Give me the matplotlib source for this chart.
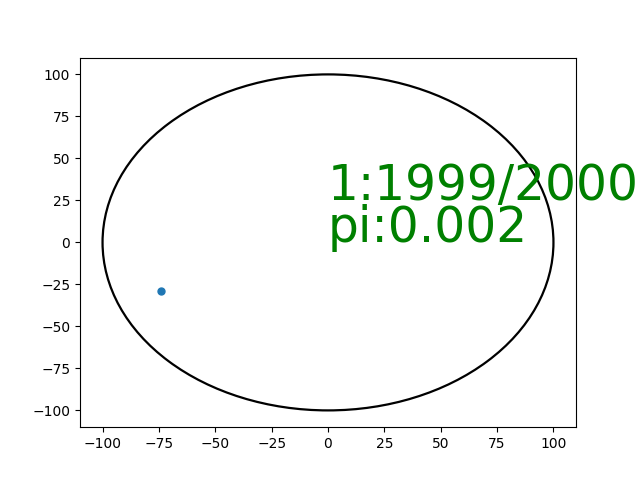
import numpy as np
import matplotlib
matplotlib.use("Agg")
import matplotlib.pyplot as plt
from matplotlib.patches import Circle

RADIUS = 100
point_x = [-74]
point_y = [-29]
inside = 1
total = 2000
shown = 1999
pi_est = 0.002

fig, ax = plt.subplots(figsize=(6.4, 4.8), dpi=100)
ax.add_patch(Circle((0, 0), RADIUS, fill=False, edgecolor="black", lw=1.6))
ax.plot(point_x, point_y, "o", color="C0", ms=5)
ax.text(0, 25, f"{inside}:{shown}/{total}", color="green", fontsize=35)
ax.text(0, 0, f"pi:{pi_est}", color="green", fontsize=35)
ax.set_xlim(-110, 110)
ax.set_ylim(-110, 110)
ax.set_xticks(np.arange(-100, 101, 25))
ax.set_yticks(np.arange(-100, 101, 25))

fig.savefig("out.png", dpi=100)
